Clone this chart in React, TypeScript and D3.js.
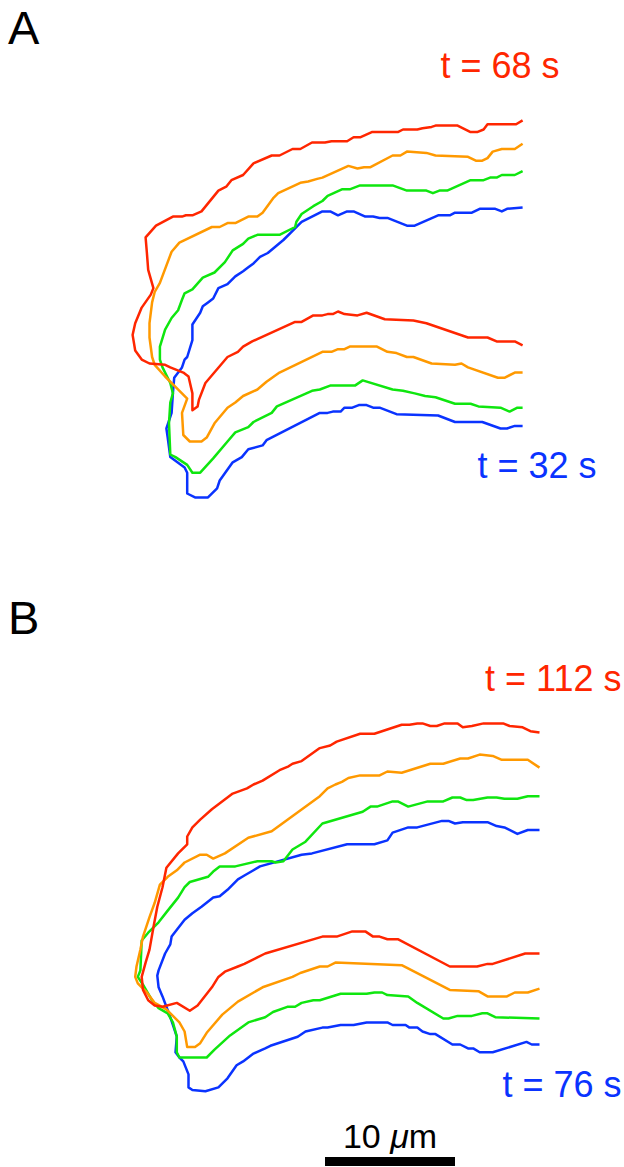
import * as d3 from "d3";
import React, { useEffect, useRef } from "react";

// cell outline contours, [x, y] in µm from each panel's top-left corner
const redA = [
  [30.2, 0.8], [29.7, 1.1], [27.5, 1.1], [27.2, 1.5], [26.7, 1.7], [26.2, 1.7], [25.2, 1.2], [23.5, 1.2],
  [23.2, 1.3], [22.5, 1.4], [22.1, 1.5], [21.0, 1.5], [20.6, 1.7], [18.6, 1.7], [17.7, 2.1], [17.2, 2.1],
  [16.7, 2.4], [15.5, 2.4], [15.0, 2.5], [14.0, 2.5], [13.1, 3.0], [12.5, 3.0], [11.5, 3.5], [10.9, 3.5],
  [9.5, 4.1], [8.7, 5.0], [7.8, 5.4], [7.4, 5.9], [6.8, 6.2], [5.5, 7.8], [4.8, 8.1], [4.3, 8.1],
  [4.0, 8.2], [3.3, 8.2], [2.0, 8.9], [1.2, 9.8], [1.3, 11.0], [1.4, 12.3], [1.8, 13.7], [1.6, 14.2],
  [0.9, 15.2], [0.4, 16.4], [0.2, 17.3], [0.4, 18.5], [0.9, 19.2], [1.5, 19.5], [2.7, 19.6], [3.1, 19.8],
  [4.1, 20.2], [4.5, 20.5], [4.8, 21.8], [4.8, 23.1], [5.2, 22.8], [5.3, 22.3], [5.8, 21.0], [7.5, 19.0],
  [8.3, 18.6], [8.7, 18.2], [9.4, 17.8], [12.7, 16.3], [13.2, 16.3], [14.1, 15.8], [14.8, 15.8], [15.2, 15.7],
  [15.6, 15.7], [16.0, 15.5], [16.5, 15.7], [17.5, 15.8], [18.2, 15.6], [19.6, 16.1], [21.8, 16.2], [22.8, 16.4],
  [26.0, 17.5], [27.5, 17.5], [28.2, 17.8], [29.6, 17.8], [30.2, 18.1],
];
const orangeA = [
  [30.2, 2.6], [29.6, 3.0], [28.6, 3.0], [27.9, 3.2], [27.5, 3.7], [27.1, 3.9], [26.6, 3.9], [26.0, 3.6],
  [23.5, 3.5], [22.8, 3.3], [21.3, 3.2], [20.8, 3.5], [20.2, 3.5], [18.5, 4.4], [18.0, 4.4], [17.5, 4.5],
  [16.8, 4.3], [14.8, 5.2], [14.4, 5.3], [13.7, 5.5], [13.1, 5.6], [11.4, 6.4], [11.0, 6.8], [10.2, 7.9],
  [9.8, 8.2], [9.1, 8.2], [8.1, 8.7], [7.5, 8.7], [6.9, 9.0], [6.3, 9.0], [3.8, 10.2], [3.2, 10.9],
  [2.3, 13.3], [1.9, 14.0], [1.7, 14.8], [1.5, 16.4], [1.5, 17.5], [1.7, 19.0], [1.9, 19.6], [2.7, 20.5],
  [3.5, 21.3], [4.4, 22.2], [4.0, 23.3], [4.1, 25.0], [4.6, 25.5], [5.5, 25.5], [5.9, 25.2], [6.5, 24.1],
  [7.5, 22.9], [8.1, 22.5], [8.7, 22.0], [9.8, 21.5], [10.5, 20.9], [11.5, 20.2], [14.8, 18.6], [15.5, 18.6],
  [16.0, 18.4], [16.5, 18.4], [16.9, 18.2], [19.0, 18.2], [19.8, 18.6], [20.5, 18.7], [21.3, 19.0], [21.8, 19.0],
  [23.2, 19.5], [25.0, 19.6], [25.5, 19.5], [26.0, 19.8], [28.3, 20.6], [28.8, 20.6], [29.6, 20.2], [30.2, 20.2],
];
const greenA = [
  [30.2, 4.7], [29.6, 5.0], [28.6, 5.0], [28.2, 5.2], [27.7, 5.2], [27.2, 5.4], [26.2, 5.4], [24.4, 6.2],
  [23.8, 6.2], [23.3, 6.4], [22.8, 6.2], [21.3, 6.2], [20.2, 5.8], [17.7, 5.8], [16.9, 6.1], [16.3, 6.1],
  [15.2, 6.6], [14.8, 7.0], [14.1, 7.4], [13.2, 8.0], [12.8, 8.6], [12.7, 9.0], [11.5, 9.6], [9.8, 9.6],
  [9.1, 9.9], [8.7, 10.3], [7.9, 10.8], [7.3, 11.7], [6.5, 12.5], [5.6, 12.9], [4.8, 13.8], [4.2, 14.1],
  [4.0, 14.6], [3.7, 15.4], [3.2, 16.0], [2.7, 16.9], [2.3, 18.2], [2.3, 19.2], [2.5, 19.8], [3.1, 21.0],
  [3.3, 21.8], [3.1, 22.5], [3.0, 24.1], [3.1, 26.5], [3.5, 26.7], [4.4, 27.3], [4.8, 27.9], [5.4, 27.9],
  [6.4, 26.8], [7.5, 25.5], [8.1, 24.8], [9.1, 24.4], [9.5, 24.0], [10.9, 23.3], [11.3, 22.8], [14.0, 21.6],
  [14.6, 21.5], [15.4, 21.2], [16.2, 21.2], [17.3, 21.2], [17.9, 20.8], [20.2, 21.5], [21.0, 21.6], [21.9, 21.8],
  [22.7, 22.0], [23.5, 22.1], [25.0, 22.6], [26.2, 22.6], [26.8, 22.8], [28.5, 22.9], [29.2, 23.2], [29.8, 22.9],
  [30.2, 22.9],
];
const blueA = [
  [30.2, 7.5], [29.0, 7.6], [28.6, 7.8], [28.1, 7.6], [26.9, 7.6], [26.3, 7.9], [25.0, 7.9], [24.6, 8.1],
  [23.7, 8.1], [21.9, 8.9], [21.3, 8.9], [19.8, 8.3], [19.2, 8.3], [18.7, 8.2], [18.1, 8.2], [17.2, 7.8],
  [16.7, 7.8], [16.0, 8.1], [15.4, 7.8], [14.8, 7.8], [13.2, 8.6], [12.7, 9.1], [11.8, 10.0], [11.2, 10.5],
  [10.6, 11.0], [10.0, 11.3], [9.5, 11.8], [9.1, 12.1], [8.7, 12.4], [8.1, 12.8], [7.5, 13.4], [6.8, 13.7],
  [6.4, 14.5], [6.0, 14.8], [5.6, 15.1], [5.4, 15.6], [4.8, 16.5], [4.8, 17.7], [4.4, 19.0], [4.2, 19.2],
  [4.0, 19.8], [3.4, 20.6], [3.3, 21.8], [3.2, 23.3], [2.8, 24.5], [2.9, 25.2], [3.1, 26.7], [4.2, 27.5],
  [4.4, 27.9], [4.4, 29.5], [5.0, 29.8], [6.0, 29.8], [6.7, 29.1], [6.9, 28.5], [7.9, 27.1], [8.6, 26.7],
  [9.1, 26.1], [10.2, 25.8], [10.5, 25.4], [14.6, 23.3], [15.2, 23.3], [15.6, 23.2], [16.2, 23.2], [16.5, 22.9],
  [17.1, 22.9], [17.6, 22.7], [18.2, 22.7], [18.7, 22.9], [19.2, 22.9], [20.5, 23.4], [23.7, 23.5], [25.0, 24.0],
  [27.1, 24.0], [28.5, 24.5], [29.0, 24.5], [29.6, 24.3], [30.2, 24.3],
];

const redB = [
  [31.5, 2.5], [30.8, 2.4], [30.2, 2.1], [29.2, 2.0], [28.7, 1.8], [27.2, 1.8], [26.3, 2.0], [25.6, 2.1],
  [25.2, 1.8], [24.2, 1.8], [23.6, 2.0], [23.1, 2.0], [22.5, 1.8], [22.1, 1.8], [21.5, 1.9], [20.9, 1.9],
  [18.8, 2.6], [17.7, 2.6], [15.9, 3.2], [15.4, 3.5], [14.6, 3.7], [13.2, 4.7], [12.5, 4.9], [12.2, 5.1],
  [11.5, 5.4], [10.2, 6.2], [9.5, 6.5], [9.0, 6.8], [7.9, 7.2], [6.3, 8.4], [5.4, 9.2], [4.8, 9.8],
  [4.4, 10.5], [4.4, 11.1], [3.7, 11.8], [2.8, 12.9], [2.5, 14.4], [2.1, 15.9], [1.8, 17.5], [1.5, 19.2],
  [1.2, 20.2], [0.9, 21.3], [1.0, 22.3], [1.4, 23.1], [1.9, 23.5], [2.5, 23.6], [3.6, 23.3], [4.6, 23.9],
  [5.2, 23.5], [6.3, 22.1], [6.8, 21.3], [7.3, 20.9], [8.3, 20.5], [8.8, 20.3], [9.8, 19.8], [10.4, 19.5],
  [14.8, 18.2], [15.9, 18.2], [17.1, 17.8], [18.1, 17.8], [18.7, 18.2], [19.2, 18.2], [19.8, 18.4], [20.6, 18.4],
  [24.6, 20.5], [26.7, 20.5], [27.5, 20.3], [27.9, 20.3], [30.4, 19.5], [31.5, 19.5],
];
const orangeB = [
  [31.5, 5.2], [30.6, 4.6], [28.6, 4.6], [27.9, 4.3], [26.9, 4.2], [26.0, 4.5], [25.4, 4.5], [24.1, 4.9],
  [23.1, 4.9], [20.9, 5.6], [19.8, 5.5], [19.2, 5.8], [17.7, 5.8], [16.8, 6.0], [16.3, 6.3], [15.8, 6.5],
  [15.2, 6.8], [14.6, 7.4], [10.9, 10.1], [9.1, 10.6], [7.3, 11.8], [6.4, 12.2], [5.9, 11.9], [5.4, 11.9],
  [4.2, 12.5], [3.6, 13.1], [2.9, 13.6], [2.3, 14.2], [1.9, 15.6], [1.5, 16.7], [1.0, 18.2], [0.8, 19.2],
  [0.5, 20.5], [0.4, 21.3], [0.6, 21.8], [1.3, 22.5], [1.9, 23.3], [2.8, 23.8], [3.8, 24.8], [4.2, 25.5],
  [4.4, 26.7], [5.0, 26.7], [5.4, 26.4], [5.9, 25.6], [7.1, 24.2], [7.7, 23.7], [8.3, 23.2], [10.2, 22.1],
  [12.5, 21.3], [13.1, 21.0], [14.6, 20.5], [15.2, 20.5], [15.8, 20.2], [20.9, 20.4], [24.6, 22.3], [26.8, 22.4],
  [27.5, 22.8], [29.0, 22.8], [29.6, 22.5], [30.6, 22.5], [31.5, 22.2],
];
const greenB = [
  [31.5, 7.4], [30.6, 7.4], [29.8, 7.6], [28.8, 7.6], [28.2, 7.5], [27.5, 7.5], [26.4, 7.7], [25.9, 7.7],
  [25.4, 7.5], [24.8, 7.5], [24.1, 7.8], [22.9, 7.8], [21.4, 8.2], [20.6, 7.8], [20.2, 7.8], [19.0, 8.2],
  [18.5, 8.2], [17.9, 8.6], [14.8, 9.5], [13.5, 10.9], [12.5, 11.5], [11.8, 12.4], [11.2, 12.5], [10.9, 12.4],
  [9.8, 12.4], [8.1, 12.8], [6.9, 12.8], [6.4, 13.2], [6.0, 13.6], [4.6, 14.0], [4.2, 14.4], [3.7, 15.2],
  [2.9, 16.2], [2.2, 17.1], [1.4, 17.9], [0.9, 18.5], [0.8, 20.8], [0.6, 21.3], [1.0, 21.9], [1.7, 23.1],
  [2.2, 23.7], [2.9, 24.1], [3.3, 24.8], [3.6, 25.9], [3.6, 27.1], [3.8, 27.5], [5.9, 27.5], [6.5, 26.9],
  [7.7, 25.8], [9.1, 24.8], [10.4, 24.4], [11.0, 24.0], [12.1, 23.6], [12.7, 23.6], [13.2, 23.3], [14.1, 23.1],
  [14.6, 23.1], [16.2, 22.6], [18.2, 22.6], [18.8, 22.5], [19.4, 22.5], [19.8, 22.7], [21.4, 22.8], [22.1, 23.3],
  [24.1, 24.5], [24.5, 24.5], [25.2, 24.3], [26.3, 24.3], [27.1, 24.1], [27.5, 24.1], [28.1, 24.4], [31.5, 24.5],
];
const blueB = [
  [31.5, 10.0], [30.6, 10.0], [29.8, 10.3], [28.8, 9.8], [28.2, 9.7], [27.5, 9.4], [25.6, 9.4], [25.0, 9.5],
  [24.5, 9.3], [24.0, 9.3], [22.1, 9.8], [21.4, 9.8], [20.2, 10.2], [19.8, 10.8], [18.8, 11.1], [16.7, 11.1],
  [14.0, 11.8], [13.2, 11.9], [10.0, 12.8], [9.5, 13.1], [8.8, 13.5], [8.3, 13.8], [7.5, 14.6], [6.9, 15.1],
  [6.4, 15.2], [5.5, 15.9], [4.8, 16.4], [4.2, 16.9], [3.2, 18.2], [3.1, 18.8], [2.7, 19.5], [2.2, 20.8],
  [2.1, 21.2], [2.2, 22.1], [2.5, 22.8], [2.8, 23.6], [3.1, 24.4], [3.6, 25.9], [3.5, 27.1], [3.8, 27.5],
  [4.1, 27.8], [4.5, 28.8], [4.5, 29.8], [4.8, 30.0], [5.8, 30.1], [6.8, 29.8], [7.5, 29.1], [8.2, 28.1],
  [8.7, 27.8], [9.5, 27.2], [10.4, 26.8], [10.8, 26.6], [12.9, 25.9], [13.5, 25.5], [14.8, 25.2], [15.2, 25.2],
  [16.2, 25.0], [17.2, 25.0], [18.2, 24.8], [19.8, 24.8], [20.2, 25.0], [21.2, 25.0], [21.5, 25.2], [22.1, 25.2],
  [22.5, 25.5], [23.1, 25.7], [23.5, 25.7], [24.8, 26.5], [25.4, 26.5], [26.0, 26.8], [26.4, 26.8], [26.9, 27.1],
  [27.9, 27.1], [30.5, 26.3], [30.9, 26.5], [31.5, 26.5],
];

const colors = ["#ff2600", "#ff9900", "#0fe60f", "#0a33ff"];
const panels = [
  { label: "A", contours: [redA, orangeA, greenA, blueA], first: "t = 32 s", last: "t = 68 s" },
  { label: "B", contours: [redB, orangeB, greenB, blueB], first: "t = 76 s", last: "t = 112 s" },
];
const scaleBarUm = 10;

export default function App() {
  const ref = useRef<SVGSVGElement>(null);

  useEffect(() => {
    const width = 624;
    const height = 1167;
    const svg = d3.select(ref.current);
    svg.selectAll("*").remove();
    svg.attr("width", width).attr("height", height).attr("viewBox", `0 0 ${width} ${height}`);

    const pxPerUm = 13;
    const origins = [
      { x: 130, y: 110 },
      { x: 130, y: 700 },
    ];
    const font = "'Liberation Sans', Arial, Helvetica, sans-serif";

    panels.forEach((p, i) => {
      const o = origins[i];
      const x = d3.scaleLinear().domain([0, 1]).range([o.x, o.x + pxPerUm]);
      const y = d3.scaleLinear().domain([0, 1]).range([o.y, o.y + pxPerUm]);
      const line = d3
        .line<number[]>()
        .x((d) => x(d[0]))
        .y((d) => y(d[1]));

      const g = svg.append("g");
      // draw blue first so red ends up on top
      p.contours
        .map((c, k) => ({ c, k }))
        .reverse()
        .forEach(({ c, k }) => {
          g.append("path")
            .attr("d", line(c as number[][]))
            .attr("fill", "none")
            .attr("stroke", colors[k])
            .attr("stroke-width", 2.5)
            .attr("stroke-linejoin", "round");
        });

      svg
        .append("text")
        .text(p.label)
        .attr("x", 8)
        .attr("y", o.y - 66)
        .attr("font-family", font)
        .attr("font-size", 47)
        .attr("fill", "#000");

      const red = p.contours[0];
      const blue = p.contours[3];
      const redEnd = red[0];
      const blueEnd = blue[blue.length - 1];
      const lastX = i === 0 ? x(redEnd[0]) + 37 : x(redEnd[0]) + 82;
      svg
        .append("text")
        .text(p.last)
        .attr("x", lastX)
        .attr("y", y(redEnd[1]) - 42)
        .attr("text-anchor", "end")
        .attr("font-family", font)
        .attr("font-size", 36)
        .attr("fill", colors[0]);
      svg
        .append("text")
        .text(p.first)
        .attr("x", i === 0 ? x(blueEnd[0]) + 74 : x(blueEnd[0]) + 82)
        .attr("y", y(blueEnd[1]) + 52)
        .attr("text-anchor", "end")
        .attr("font-family", font)
        .attr("font-size", 36)
        .attr("fill", colors[3]);
    });

    // scale bar
    const bar = d3.scaleLinear().domain([0, scaleBarUm]).range([325, 325 + scaleBarUm * pxPerUm]);
    svg
      .append("rect")
      .attr("x", bar(0))
      .attr("y", 1157)
      .attr("width", bar(scaleBarUm) - bar(0))
      .attr("height", 9)
      .attr("fill", "#000");
    const t = svg
      .append("text")
      .attr("x", (bar(0) + bar(scaleBarUm)) / 2)
      .attr("y", 1148)
      .attr("text-anchor", "middle")
      .attr("font-family", font)
      .attr("font-size", 34)
      .attr("fill", "#000");
    t.append("tspan").text(`${scaleBarUm} `);
    t.append("tspan").text("μ").attr("font-style", "italic");
    t.append("tspan").text("m");
  }, []);

  return (
    <div>
      <svg ref={ref} style={{ position: "absolute", left: 0, top: 0, background: "#fff" }}></svg>
    </div>
  );
}
